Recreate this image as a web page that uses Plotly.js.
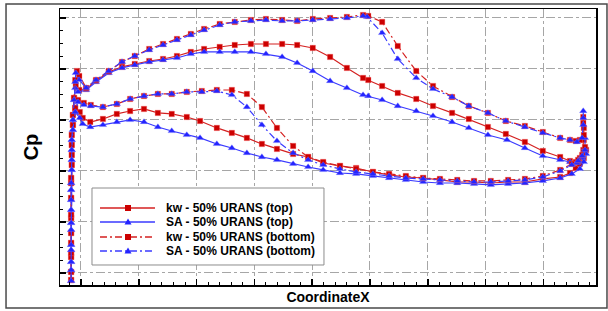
<!DOCTYPE html>
<html>
<head>
<meta charset="utf-8">
<script src="https://cdn.plot.ly/plotly-3.0.1.min.js"></script>
<style>
html,body{margin:0;padding:0;background:#fff;}
#chart{width:608px;height:311px;}
</style>
</head>
<body>
<div id="chart"></div>
<script>
// ---- legend labels ----
const seriesNames = ["kw - 50% URANS (top)", "SA - 50% URANS (top)", "kw - 50% URANS (bottom)", "SA - 50% URANS (bottom)"];
const axisTitleX = "CoordinateX";
const axisTitleY = "Cp";

// ---- leading-edge (stagnation) points ----
const kwLeX  = [-0.012,-0.014,-0.016,-0.016,-0.017,-0.017,-0.017,-0.017,-0.017,-0.017,-0.017,-0.017,-0.017,-0.017,-0.017,-0.016,-0.016,-0.014,-0.010];
const kwLeCp = [-0.716,-0.549,-0.353,-0.157,0.069,0.265,0.461,0.706,0.843,1.069,0.990,0.804,0.608,0.431,0.118,-0.059,-0.255,-0.451,-0.618];
const saLeX  = [-0.012,-0.014,-0.016,-0.016,-0.017,-0.017,-0.017,-0.017,-0.017,-0.017,-0.017,-0.017,-0.017,-0.017,-0.017,-0.016,-0.016,-0.014,-0.010];
const saLeCp = [-0.696,-0.500,-0.304,-0.108,0.118,0.284,0.510,0.725,0.892,1.078,0.971,0.775,0.578,0.382,0.186,-0.010,-0.206,-0.402,-0.578];

// ---- kw top (solid red) ----
const kwTopUpperX  = [-0.009,-0.003,0.009,0.026,0.048,0.071,0.093,0.118,0.142,0.166,0.190,0.213,0.240,0.266,0.294,0.320,0.348,0.374,0.401,0.431,0.460,0.488,0.497,0.521,0.548,0.580,0.609,0.642,0.671,0.704,0.735,0.768,0.799,0.829,0.846,0.856,0.863,0.869,0.870,0.869,0.869];
const kwTopUpperCp = [-0.843,-0.794,-0.804,-0.882,-0.971,-1.020,-1.049,-1.078,-1.098,-1.127,-1.167,-1.196,-1.216,-1.235,-1.245,-1.245,-1.245,-1.235,-1.206,-1.118,-1.010,-0.912,-0.892,-0.833,-0.765,-0.706,-0.637,-0.569,-0.510,-0.431,-0.363,-0.284,-0.196,-0.137,-0.098,-0.088,-0.127,-0.206,-0.304,-0.471,-0.529];
const kwTopLowerX  = [-0.002,0.003,0.016,0.038,0.062,0.085,0.109,0.133,0.157,0.183,0.206,0.235,0.261,0.287,0.313,0.339,0.367,0.393,0.419,0.448,0.476,0.505,0.533,0.562,0.592,0.621,0.651,0.680,0.709,0.739,0.768,0.799,0.829,0.846,0.856,0.863,0.870,0.874];
const kwTopLowerCp = [-0.578,-0.520,-0.480,-0.510,-0.559,-0.588,-0.608,-0.569,-0.559,-0.529,-0.490,-0.422,-0.373,-0.324,-0.265,-0.216,-0.167,-0.137,-0.078,-0.049,-0.029,0.010,0.039,0.059,0.069,0.088,0.108,0.108,0.118,0.108,0.108,0.078,0.059,0.020,-0.029,-0.069,-0.127,-0.206];

// ---- SA top (solid blue) ----
const saTopUpperX  = [-0.010,-0.005,0.009,0.026,0.048,0.071,0.093,0.118,0.142,0.166,0.190,0.213,0.240,0.266,0.294,0.320,0.348,0.374,0.401,0.431,0.460,0.488,0.497,0.521,0.548,0.580,0.609,0.642,0.671,0.704,0.737,0.768,0.799,0.829,0.846,0.858,0.867,0.872,0.872];
const saTopUpperCp = [-0.814,-0.775,-0.794,-0.873,-0.961,-1.010,-1.039,-1.069,-1.088,-1.108,-1.147,-1.167,-1.167,-1.167,-1.167,-1.147,-1.118,-1.059,-0.980,-0.882,-0.814,-0.745,-0.735,-0.696,-0.637,-0.588,-0.539,-0.480,-0.422,-0.353,-0.304,-0.225,-0.147,-0.108,-0.088,-0.078,-0.127,-0.225,-0.324];
const saTopLowerX  = [-0.002,0.003,0.016,0.038,0.062,0.085,0.109,0.133,0.157,0.183,0.206,0.235,0.261,0.287,0.313,0.339,0.367,0.393,0.419,0.448,0.476,0.505,0.533,0.562,0.592,0.621,0.651,0.680,0.709,0.739,0.768,0.799,0.829,0.849,0.863,0.870,0.874];
const saTopLowerCp = [-0.520,-0.461,-0.431,-0.451,-0.480,-0.500,-0.480,-0.431,-0.392,-0.353,-0.324,-0.265,-0.225,-0.176,-0.137,-0.108,-0.069,-0.039,-0.010,0.020,0.029,0.049,0.069,0.088,0.108,0.118,0.118,0.127,0.137,0.127,0.118,0.098,0.069,0.029,-0.020,-0.088,-0.167];

// ---- kw bottom (dash-dot red) ----
const kwBotUpperX  = [-0.010,-0.007,-0.003,0.009,0.026,0.048,0.071,0.093,0.118,0.142,0.166,0.190,0.213,0.240,0.266,0.294,0.320,0.348,0.374,0.401,0.431,0.460,0.488,0.497,0.521,0.548,0.580,0.609,0.642,0.671,0.704,0.735,0.768,0.799,0.829,0.846,0.856,0.863,0.870,0.870];
const kwBotUpperCp = [-0.892,-0.980,-0.931,-0.814,-0.892,-0.980,-1.069,-1.127,-1.196,-1.245,-1.294,-1.343,-1.392,-1.441,-1.461,-1.480,-1.490,-1.480,-1.471,-1.490,-1.500,-1.510,-1.529,-1.520,-1.461,-1.225,-0.980,-0.833,-0.725,-0.637,-0.569,-0.490,-0.441,-0.382,-0.324,-0.304,-0.294,-0.304,-0.353,-0.422];
const kwBotLowerX  = [-0.005,0.005,0.017,0.038,0.062,0.085,0.109,0.133,0.157,0.183,0.209,0.235,0.261,0.287,0.313,0.339,0.367,0.393,0.419,0.448,0.476,0.505,0.533,0.562,0.592,0.621,0.651,0.680,0.709,0.739,0.768,0.799,0.829,0.849,0.860,0.867,0.872];
const kwBotLowerCp = [-0.696,-0.667,-0.647,-0.627,-0.657,-0.706,-0.735,-0.755,-0.755,-0.775,-0.784,-0.794,-0.794,-0.755,-0.627,-0.422,-0.245,-0.137,-0.088,-0.049,-0.020,0.010,0.029,0.049,0.069,0.078,0.088,0.098,0.098,0.088,0.078,0.049,-0.010,-0.069,-0.108,-0.157,-0.235];

// ---- SA bottom (dash-dot blue) ----
const saBotUpperX  = [-0.010,-0.009,-0.003,0.009,0.026,0.048,0.071,0.093,0.118,0.142,0.166,0.190,0.213,0.240,0.266,0.294,0.320,0.348,0.374,0.401,0.431,0.460,0.488,0.495,0.521,0.548,0.580,0.609,0.642,0.671,0.704,0.735,0.768,0.799,0.829,0.846,0.858,0.867,0.869,0.869,0.869];
const saBotUpperCp = [-0.873,-0.961,-0.892,-0.814,-0.892,-0.980,-1.069,-1.127,-1.186,-1.235,-1.284,-1.333,-1.382,-1.431,-1.461,-1.471,-1.480,-1.471,-1.471,-1.480,-1.490,-1.500,-1.520,-1.510,-1.353,-1.098,-0.912,-0.804,-0.725,-0.637,-0.569,-0.490,-0.431,-0.373,-0.324,-0.304,-0.284,-0.324,-0.451,-0.520,-0.588];
const saBotLowerX  = [-0.005,0.005,0.017,0.038,0.062,0.085,0.109,0.133,0.157,0.183,0.209,0.235,0.261,0.287,0.313,0.339,0.367,0.393,0.419,0.448,0.476,0.505,0.533,0.562,0.592,0.621,0.651,0.680,0.709,0.739,0.768,0.799,0.829,0.849,0.860,0.867,0.872];
const saBotLowerCp = [-0.676,-0.647,-0.637,-0.627,-0.657,-0.706,-0.735,-0.755,-0.755,-0.775,-0.775,-0.784,-0.745,-0.627,-0.451,-0.294,-0.176,-0.108,-0.059,-0.020,0.010,0.029,0.049,0.069,0.078,0.088,0.098,0.108,0.108,0.098,0.088,0.059,0.000,-0.059,-0.098,-0.147,-0.206];

// ---- build closed loops: upper (TE -> LE), LE stagnation, lower (LE -> TE) ----
function loop(ux, uy, lx, ly, lex, ley) {
  return {
    x: ux.slice().reverse().concat(lex, lx),
    y: uy.slice().reverse().concat(ley, ly)
  };
}
const RED = "#d42020", RED_M = "#cc0000";
const BLUE = "#3a3aff", BLUE_M = "#2424ff";

const specs = [
  {d: loop(kwTopUpperX, kwTopUpperCp, kwTopLowerX, kwTopLowerCp, kwLeX, kwLeCp), c: RED, mc: RED_M, sym: "square", dash: "solid", size: 5.5},
  {d: loop(saTopUpperX, saTopUpperCp, saTopLowerX, saTopLowerCp, saLeX, saLeCp), c: BLUE, mc: BLUE_M, sym: "triangle-up", dash: "solid", size: 6.5},
  {d: loop(kwBotUpperX, kwBotUpperCp, kwBotLowerX, kwBotLowerCp, kwLeX, kwLeCp), c: RED, mc: RED_M, sym: "square", dash: "7px,3px,2px,3px", size: 5.5},
  {d: loop(saBotUpperX, saBotUpperCp, saBotLowerX, saBotLowerCp, saLeX, saLeCp), c: BLUE, mc: BLUE_M, sym: "triangle-up", dash: "7px,3px,2px,3px", size: 6.5}
];
const traces = specs.map((s, i) => ({
  type: "scatter", mode: "lines+markers", name: seriesNames[i],
  x: s.d.x, y: s.d.y,
  line: {color: s.c, width: 1.2, dash: s.dash},
  marker: {symbol: s.sym, size: s.size, color: s.mc, line: {width: 0.6, color: "rgba(255,120,120,0.6)".replace("255,120,120", s.c === RED ? "255,120,120" : "120,120,255")}},
  showlegend: false, hoverinfo: "skip"
}));

// ---- custom legend (matches the reference box) ----
const legRowsY = [0.279, 0.2283, 0.1739, 0.1232];
const shapes = [
  // outer frame
  {type: "rect", xref: "paper", yref: "paper", x0: -0.1007, x1: 1.0205, y0: -0.0833, y1: 1.018, line: {color: "#4a4a4a", width: 1.5}, layer: "below"},
  // legend box
  {type: "rect", xref: "paper", yref: "paper", x0: 0.0597, x1: 0.4925, y0: 0.0725, y1: 0.3514, line: {color: "#8c8c8c", width: 1}, fillcolor: "#ffffff", layer: "above"}
];
const annotations = [];
specs.forEach((s, i) => {
  const yy = legRowsY[i];
  shapes.push({type: "line", xref: "paper", yref: "paper", x0: 0.0746, x1: 0.1772, y0: yy, y1: yy,
    line: {color: s.c, width: 1.3, dash: s.dash === "solid" ? "solid" : "7px,3px,2px,3px"}, layer: "above"});
  if (s.sym === "square") {
    shapes.push({type: "rect", xref: "paper", yref: "paper", xsizemode: "pixel", ysizemode: "pixel",
      xanchor: 0.1269, yanchor: yy, x0: -3, x1: 3, y0: -3, y1: 3, fillcolor: s.mc, line: {width: 0}, layer: "above"});
  } else {
    shapes.push({type: "path", xref: "paper", yref: "paper", xsizemode: "pixel", ysizemode: "pixel",
      xanchor: 0.1269, yanchor: yy, path: "M-3.5,-2.5 L3.5,-2.5 L0,3.5 Z", fillcolor: s.mc, line: {width: 0}, layer: "above"});
  }
  annotations.push({xref: "paper", yref: "paper", x: 0.194, y: yy, xanchor: "left", yanchor: "middle",
    text: "<b>" + seriesNames[i] + "</b>", showarrow: false,
    font: {family: "Liberation Sans, Arial, sans-serif", size: 12, color: "#000"}});
});

const axisCommon = {
  showticklabels: false, ticks: "inside", ticklen: 6, tickwidth: 1.5, tickcolor: "#000",
  showline: true, linecolor: "#000", linewidth: 1.5, mirror: true,
  showgrid: true, gridcolor: "#a6a6a6", gridwidth: 1, griddash: "dashdot",
  zeroline: false
};
const layout = {
  width: 608, height: 311,
  margin: {l: 60, r: 12, t: 9, b: 26},
  paper_bgcolor: "#fff", plot_bgcolor: "#fff",
  showlegend: false,
  font: {family: "Liberation Sans, Arial, sans-serif"},
  xaxis: Object.assign({}, axisCommon, {
    range: [-0.0363, 0.891], tick0: 0, dtick: 0.1,
    minor: {dtick: 0.02, ticks: "inside", ticklen: 3, tickwidth: 1, tickcolor: "#000", showgrid: false},
    title: {text: "<b>" + axisTitleX + "</b>", font: {size: 14, color: "#000"}, standoff: 6}
  }),
  yaxis: Object.assign({}, axisCommon, {
    range: [1.118, -1.588], tick0: 0, dtick: 0.5,
    minor: {dtick: 0.125, ticks: "inside", ticklen: 3, tickwidth: 1, tickcolor: "#000", showgrid: false},
    title: {text: "<b>" + axisTitleY + "</b>", font: {size: 20, color: "#000"}, standoff: 14}
  }),
  shapes: shapes,
  annotations: annotations
};
Plotly.newPlot("chart", traces, layout, {staticPlot: true, displayModeBar: false});
</script>
</body>
</html>
